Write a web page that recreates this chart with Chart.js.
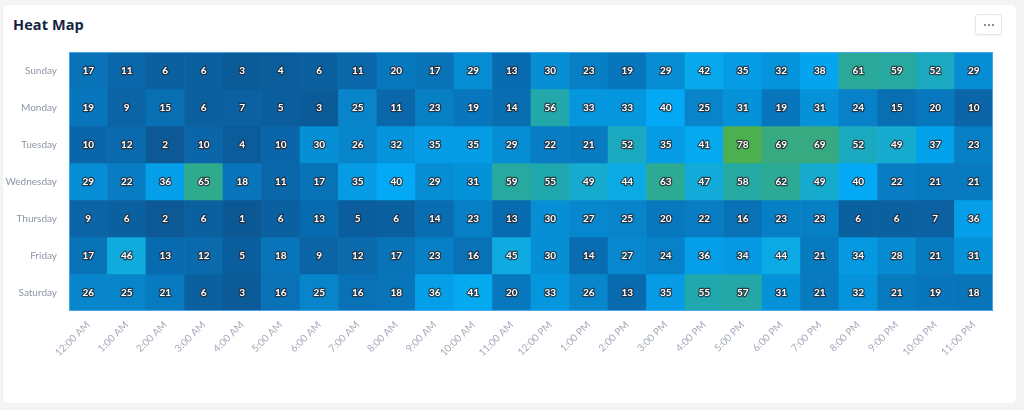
<!DOCTYPE html>
<html>
<head>
<meta charset="utf-8">
<script src="https://cdn.jsdelivr.net/npm/chart.js@4"></script>
<style>
  html, body { margin: 0; padding: 0; width: 1024px; height: 410px; background: #f4f4f5; overflow: hidden; font-family: Lato, "Open Sans", sans-serif; }
  .card { position: absolute; left: 3px; top: 5px; width: 1013px; height: 398px; background: #fff; border-radius: 4px; box-shadow: 0 0 1px rgba(0,0,0,0.12); }
  .title { position: absolute; left: 13px; top: 15px; font-family: "Open Sans", sans-serif; font-weight: 700; font-size: 14.5px; color: #15233f; letter-spacing: 0.1px; }
  .btn { position: absolute; left: 975px; top: 14px; width: 25px; height: 19px; border: 1px solid #e6e7ea; border-radius: 3px; background: #fff; box-shadow: 0 1px 2px rgba(0,0,0,0.05); }
  .btn span { position: absolute; top: 9px; width: 2px; height: 2px; background: #666; border-radius: 1px; }
  #wrap { position: absolute; left: 0; top: 0; width: 1024px; height: 410px; }
</style>
</head>
<body>
<div class="card"></div>
<div class="title">Heat Map</div>
<div class="btn"><span style="left:8px"></span><span style="left:12px"></span><span style="left:16px"></span></div>
<div id="wrap"><canvas id="c" width="1024" height="410"></canvas></div>
<script>
const hours = ["12:00 AM","1:00 AM","2:00 AM","3:00 AM","4:00 AM","5:00 AM","6:00 AM","7:00 AM","8:00 AM","9:00 AM","10:00 AM","11:00 AM",
               "12:00 PM","1:00 PM","2:00 PM","3:00 PM","4:00 PM","5:00 PM","6:00 PM","7:00 PM","8:00 PM","9:00 PM","10:00 PM","11:00 PM"];
const days = ["Sunday","Monday","Tuesday","Wednesday","Thursday","Friday","Saturday"];

const sunday    = [17,11,6,6,3,4,6,11,20,17,29,13,30,23,19,29,42,35,32,38,61,59,52,29];
const monday    = [19,9,15,6,7,5,3,25,11,23,19,14,56,33,33,40,25,31,19,31,24,15,20,10];
const tuesday   = [10,12,2,10,4,10,30,26,32,35,35,29,22,21,52,35,41,78,69,69,52,49,37,23];
const wednesday = [29,22,36,65,18,11,17,35,40,29,31,59,55,49,44,63,47,58,62,49,40,22,21,21];
const thursday  = [9,6,2,6,1,6,13,5,6,14,23,13,30,27,25,20,22,16,23,23,6,6,7,36];
const friday    = [17,46,13,12,5,18,9,12,17,23,16,45,30,14,27,24,36,34,44,21,34,28,21,31];
const saturday  = [26,25,21,6,3,16,25,16,18,36,41,20,33,26,13,35,55,57,31,21,32,21,19,18];
const rows = [sunday, monday, tuesday, wednesday, thursday, friday, saturday];

// colour scale stops [value, r, g, b]
const stops = [[0,12,86,146],[10,10,102,168],[20,8,120,190],[30,6,143,213],[40,3,169,244],[48,20,170,212],[56,34,168,170],[64,46,170,142],[70,58,170,128],[78,76,175,80]];
function colorFor(v) {
  if (v <= stops[0][0]) return `rgb(${stops[0][1]},${stops[0][2]},${stops[0][3]})`;
  for (let i = 1; i < stops.length; i++) {
    if (v <= stops[i][0]) {
      const a = stops[i-1], b = stops[i], t = (v - a[0]) / (b[0] - a[0]);
      const c = [1,2,3].map(k => Math.round(a[k] + (b[k] - a[k]) * t));
      return `rgb(${c[0]},${c[1]},${c[2]})`;
    }
  }
  const l = stops[stops.length-1];
  return `rgb(${l[1]},${l[2]},${l[3]})`;
}

const datasets = rows.map((vals, r) => ({
  label: days[r],
  data: vals.map(() => [r, r + 1]),
  values: vals,
  backgroundColor: vals.map(colorFor),
  borderWidth: 0,
  grouped: false,
  yAxisID: 'yv',
  barPercentage: 1,
  categoryPercentage: 1
}));

const labelPlugin = {
  id: 'cellLabels',
  afterDatasetsDraw(chart) {
    const ctx = chart.ctx;
    ctx.save();
    ctx.font = 'bold 10px Lato, "Open Sans", sans-serif';
    ctx.textAlign = 'center';
    ctx.textBaseline = 'middle';
    ctx.lineJoin = 'round';
    chart.data.datasets.forEach((ds, di) => {
      const meta = chart.getDatasetMeta(di);
      meta.data.forEach((bar, i) => {
        const x = bar.x;
        const y = (bar.y + bar.base) / 2;
        const txt = String(ds.values[i]);
        ctx.lineWidth = 2.4;
        ctx.strokeStyle = 'rgba(40,40,48,0.8)';
        ctx.strokeText(txt, x, y + 0.5);
        ctx.fillStyle = '#ffffff';
        ctx.fillText(txt, x, y + 0.5);
      });
    });
    // outer border
    const a = chart.chartArea;
    ctx.strokeStyle = 'rgba(80,170,235,0.9)';
    ctx.lineWidth = 1;
    ctx.strokeRect(a.left + 0.5, a.top + 0.5, a.right - a.left - 1, a.bottom - a.top - 1);
    ctx.restore();
  }
};

new Chart(document.getElementById('c'), {
  type: 'bar',
  data: { labels: hours, datasets },
  options: {
    responsive: false,
    animation: false,
    layout: { padding: { left: 0, top: 52, right: 31, bottom: 19 } },
    plugins: { legend: { display: false }, tooltip: { enabled: false } },
    scales: {
      x: {
        type: 'category',
        offset: true,
        z: 1,
        grid: { offset: true, color: 'rgba(255,255,255,0.16)', drawTicks: false, drawOnChartArea: true },
        border: { display: false },
        ticks: { color: '#a3abb9', font: { family: 'Lato', size: 10 }, minRotation: 45, maxRotation: 45, padding: 8, autoSkip: false },
        afterFit(s) { s.height = 80; }
      },
      y: {
        type: 'category',
        labels: days,
        offset: true,
        position: 'left',
        z: 1,
        grid: { offset: true, color: 'rgba(255,255,255,0.16)', drawTicks: false },
        border: { display: false },
        ticks: { color: '#8d96a6', font: { family: 'Lato', size: 10 }, padding: 12 },
        afterFit(s) { s.width = 69; }
      },
      yv: {
        type: 'linear',
        display: false,
        min: 0, max: 7,
        reverse: true
      }
    }
  },
  plugins: [labelPlugin]
});
</script>
</body>
</html>
